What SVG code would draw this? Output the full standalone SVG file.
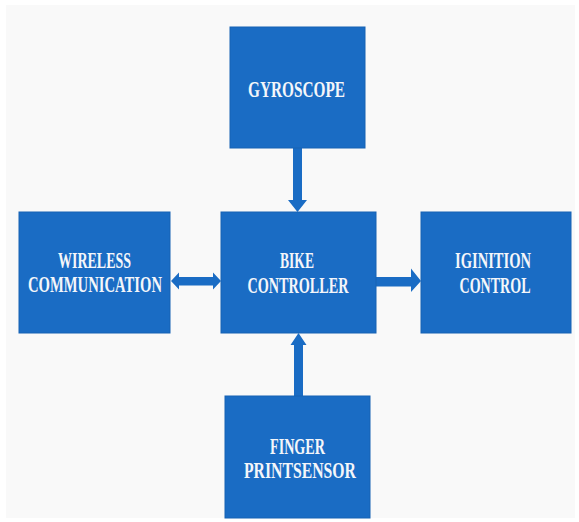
<svg xmlns="http://www.w3.org/2000/svg" width="579" height="522" viewBox="0 0 579 522">
<style>
.box{fill:#1a6cc4;stroke:#1662b4;stroke-width:1}
.lbl{font-family:"Liberation Serif","Times New Roman",serif;font-weight:bold;font-size:23px;fill:#f4f6fa}
.arw{fill:#1a6cc4}
</style>
<rect x="0" y="0" width="579" height="522" fill="#ffffff"/>
<rect x="6" y="5" width="569" height="513" fill="#f9f9f9"/>
<g id="connectors">
<polygon class="arw" points="293,147 302,147 302,200 307,200 297.5,212 288,200 293,200"/>
<polygon class="arw" points="294,396 303,396 303,345 306.5,345 298.5,333 290.5,345 294,345"/>
<polygon class="arw" points="171,281 179,272.5 179,277 213,277 213,272.5 221,281 213,289.5 213,285.5 179,285.5 179,289.5"/>
<polygon class="arw" points="376,277 411,277 411,268.5 421,281 411,292 411,286.5 376,286.5"/>
</g>
<g id="gyroscope">
<rect class="box" x="230" y="27" width="135" height="121"/>
<text class="lbl" x="296.5" y="97" text-anchor="middle" textLength="97" lengthAdjust="spacingAndGlyphs">GYROSCOPE</text>
</g>
<g id="wireless">
<rect class="box" x="19" y="212" width="151" height="121"/>
<text class="lbl" x="94.5" y="268" text-anchor="middle" textLength="73" lengthAdjust="spacingAndGlyphs">WIRELESS</text>
<text class="lbl" x="95" y="292" text-anchor="middle" textLength="134" lengthAdjust="spacingAndGlyphs">COMMUNICATION</text>
</g>
<g id="bike">
<rect class="box" x="221" y="212" width="155" height="121"/>
<text class="lbl" x="297" y="268" text-anchor="middle" textLength="34" lengthAdjust="spacingAndGlyphs">BIKE</text>
<text class="lbl" x="298" y="293" text-anchor="middle" textLength="101" lengthAdjust="spacingAndGlyphs">CONTROLLER</text>
</g>
<g id="ignition">
<rect class="box" x="421" y="212" width="150" height="121"/>
<text class="lbl" x="493" y="268" text-anchor="middle" textLength="76" lengthAdjust="spacingAndGlyphs">IGINITION</text>
<text class="lbl" x="495" y="293" text-anchor="middle" textLength="71" lengthAdjust="spacingAndGlyphs">CONTROL</text>
</g>
<g id="finger">
<rect class="box" x="225" y="396" width="145" height="122"/>
<text class="lbl" x="297.5" y="453.5" text-anchor="middle" textLength="55" lengthAdjust="spacingAndGlyphs">FINGER</text>
<text class="lbl" x="300" y="478" text-anchor="middle" textLength="112" lengthAdjust="spacingAndGlyphs">PRINTSENSOR</text>
</g>
</svg>
